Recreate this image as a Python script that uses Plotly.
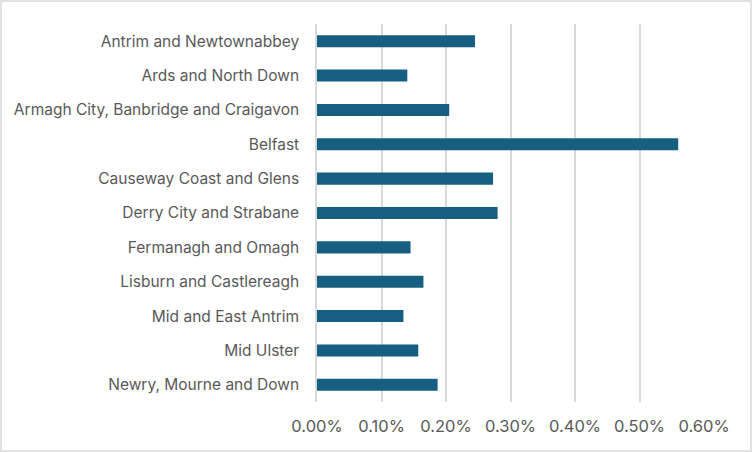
import plotly.graph_objects as go

councils = [
    "Antrim and Newtownabbey",
    "Ards and North Down",
    "Armagh City, Banbridge and Craigavon",
    "Belfast",
    "Causeway Coast and Glens",
    "Derry City and Strabane",
    "Fermanagh and Omagh",
    "Lisburn and Castlereagh",
    "Mid and East Antrim",
    "Mid Ulster",
    "Newry, Mourne and Down",
]
values = [0.00245, 0.00140, 0.00205, 0.00560, 0.00273, 0.00280,
          0.00145, 0.00165, 0.00134, 0.00157, 0.00187]
x_ticks = [0, 0.001, 0.002, 0.003, 0.004, 0.005, 0.006]

W, H = 752, 452
L, R, T, B = 317, 48, 24, 50

fig = go.Figure(go.Bar(
    x=values, y=councils, orientation="h",
    marker=dict(color="#175F80", line=dict(width=0)),
    hoverinfo="x+y",
))

fig.update_layout(
    width=W, height=H,
    margin=dict(l=L, r=R, t=T, b=B, pad=0),
    paper_bgcolor="white", plot_bgcolor="white",
    bargap=0.65,
    showlegend=False,
    font=dict(family="Inter, Lato, sans-serif", size=15, color="#595959"),
    xaxis=dict(
        range=[0, 0.006], tickvals=x_ticks, tickformat=".2%",
        showgrid=True, gridcolor="#D9D9D9", gridwidth=1.5,
        zeroline=False, showline=False, ticks="",
        ticklabelstandoff=12,
        tickfont=dict(size=16.5, color="#595959"),
    ),
    yaxis=dict(
        autorange="reversed", showgrid=False, zeroline=False,
        showline=True, linecolor="#D9D9D9", linewidth=1.5,
        ticks="", ticklabelstandoff=13,
        tickfont=dict(size=15.5, color="#595959"),
    ),
    shapes=[dict(
        type="rect", xref="paper", yref="paper",
        x0=-(L - 1) / (W - L - R), x1=1 + (R - 1) / (W - L - R),
        y0=-(B - 1) / (H - T - B), y1=1 + (T - 1) / (H - T - B),
        line=dict(color="#D9D9D9", width=1.5), fillcolor="rgba(0,0,0,0)",
        layer="below",
    )],
)

fig.write_html(
    "out.html",
    config={"displayModeBar": False},
    post_script="document.body.style.margin='0';document.body.style.overflow='hidden';",
)
